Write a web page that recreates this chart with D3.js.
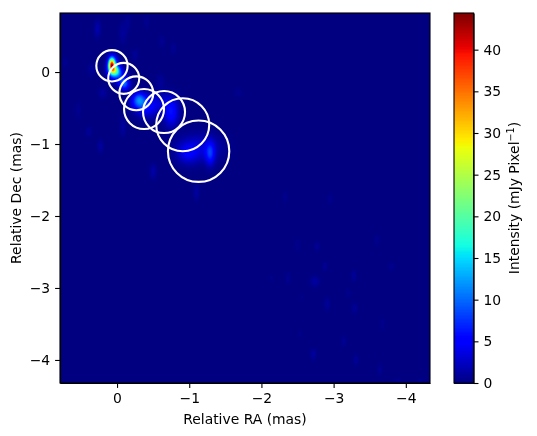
<!DOCTYPE html>
<html><head><meta charset="utf-8">
<script src="https://cdn.jsdelivr.net/npm/d3@7"></script>
<style>
html,body{margin:0;padding:0;background:#fff}
#wrap{position:relative;width:537px;height:436px;overflow:hidden}
canvas{position:absolute;left:60px;top:13px}
svg{position:absolute;left:0;top:0}
text{font-family:"DejaVu Sans",sans-serif;font-size:13.9px;fill:#000}
</style></head><body><div id="wrap"><canvas id="c" width="370" height="370"></canvas><svg id="s" width="537" height="436"></svg></div>
<script>
// emission components: [RA mas, Dec mas, sigma RA, sigma Dec, peak mJy]
const coreComponents = [
 [0.073,0.1,0.03,0.06,30],[0.035,0.02,0.05,0.05,14],[0.06,0.1,0.05,0.09,10],[0.0,-0.03,0.07,0.07,7],
 [-0.1,-0.16,0.05,0.06,10],[-0.3,-0.36,0.05,0.06,3],
 [-0.31,-0.41,0.08,0.08,8.5],[-0.42,-0.5,0.1,0.1,4],
 [-0.75,-0.57,0.07,0.13,5.5],[-0.62,-0.42,0.14,0.1,2.5],
 [-1.29,-1.13,0.045,0.11,6.5],[-0.98,-1.13,0.1,0.1,3.5],[-1.15,-1.05,0.2,0.13,3]
];
const faintComponents = [
 [0.27,0.6,0.03,0.08,1.8],[-0.08,0.54,0.04,0.1,1],[-0.15,0.69,0.03,0.08,0.7],[-0.41,0.7,0.03,0.06,0.6],
 [-0.62,0.42,0.03,0.06,0.7],[-0.78,0.33,0.03,0.06,0.7],[0.2,-0.29,0.04,0.05,1.2],[0.35,0.04,0.04,0.06,0.9],
 [0.54,-0.53,0.03,0.08,0.6],[0.23,-1.03,0.03,0.06,1.2],[0.39,-0.83,0.03,0.05,0.9],[-0.08,-0.76,0.03,0.09,1.2],
 [-0.5,-1.38,0.035,0.07,1.5],[-1.1,-1.66,0.03,0.08,1.2],[-1.68,-0.29,0.04,0.04,0.6],[-0.6,-0.13,0.04,0.07,0.9],
 [-0.25,0.24,0.03,0.06,0.9],[0.72,0.13,0.03,0.05,0.6],
 [-2.33,-1.73,0.025,0.05,0.6],[-2.95,-1.76,0.025,0.05,0.6],[-2.5,-2.4,0.03,0.07,0.5],[-2.77,-2.42,0.03,0.04,0.8],
 [-3.6,-2.33,0.025,0.05,0.6],[-2.88,-2.7,0.025,0.05,0.7],[-3.28,-2.83,0.025,0.05,1],[-3.8,-2.7,0.03,0.04,0.6],
 [-2.74,-2.91,0.045,0.05,1.3],[-2.37,-2.86,0.025,0.06,0.7],[-2.14,-2.86,0.02,0.03,0.5],[-3.2,-3.07,0.03,0.04,0.5],
 [-2.56,-3.12,0.02,0.03,0.4],[-2.91,-3.22,0.03,0.06,0.9],[-3.29,-3.28,0.03,0.05,0.9],[-3.68,-3.5,0.025,0.06,0.5],
 [-2.54,-3.64,0.02,0.04,0.4],[-3.14,-3.74,0.025,0.05,0.8],[-2.72,-3.92,0.03,0.05,1.2],[-3.31,-4.0,0.025,0.05,0.9],
 [-3.64,-4.14,0.025,0.05,0.8],[-3.89,-4.3,0.03,0.03,0.6],[-4.2,-4.29,0.03,0.03,0.5]
];
const circleRA  = [0.07,-0.093,-0.267,-0.374,-0.651,-0.91,-1.13];
const circleDec = [0.087,-0.088,-0.296,-0.514,-0.556,-0.732,-1.1];
const circleR   = [0.217,0.215,0.235,0.277,0.291,0.367,0.425];
const xTicks = [0,-1,-2,-3,-4];
const yTicks = [0,-1,-2,-3,-4];
const cbarTicks = [0,5,10,15,20,25,30,35,40];
const vmax = 44.4;

const L=60,R=430,T=13,B=383,CL=454,CR=473.6;
const x=d3.scaleLinear().domain([0.79,-4.335]).range([L,R]);
const y=d3.scaleLinear().domain([0.82,-4.32]).range([T,B]);
const cb=d3.scaleLinear().domain([0,vmax]).range([B,T]);
const jr=d3.scaleLinear().domain([0,.35,.66,.89,1]).range([0,0,1,1,.5]).clamp(true);
const jg=d3.scaleLinear().domain([0,.125,.375,.64,.91,1]).range([0,0,1,1,0,0]).clamp(true);
const jb=d3.scaleLinear().domain([0,.11,.34,.65,1]).range([.5,1,1,0,0]).clamp(true);
const jet=v=>{const t=Math.min(1,Math.max(0,v/vmax));return [jr(t)*255,jg(t)*255,jb(t)*255];};

const ctx=document.getElementById('c').getContext('2d');
const img=ctx.createImageData(370,370);
const comps=coreComponents.concat(faintComponents);
for(let j=0;j<370;j++){const dec=y.invert(T+j+.5);
 for(let i=0;i<370;i++){const ra=x.invert(L+i+.5);let v=0;
  for(const [a,d,sa,sd,p] of comps){const ea=(ra-a)/sa,ed=(dec-d)/sd;const q=ea*ea+ed*ed;if(q<20)v+=p*Math.exp(-q/2);}
  const c=jet(v),k=(j*370+i)*4;img.data[k]=c[0];img.data[k+1]=c[1];img.data[k+2]=c[2];img.data[k+3]=255;}}
ctx.putImageData(img,0,0);

const svg=d3.select('#s');
svg.selectAll('circle.b').data(circleRA).enter().append('circle').attr('class','b')
 .attr('cx',d=>x(d)).attr('cy',(d,i)=>y(circleDec[i])).attr('r',(d,i)=>x(0)-x(circleR[i]))
 .attr('fill','none').attr('stroke','#fff').attr('stroke-width',2.1);

const fmt=d=>d<0?'\u2212'+Math.abs(d):String(d);
function style(g){g.select('.domain').attr('stroke','#000').attr('stroke-width',1.1);
 g.selectAll('.tick line').attr('stroke','#000').attr('stroke-width',1.1);
 g.selectAll('.tick text').attr('fill','#000').style('font-family','"DejaVu Sans",sans-serif').style('font-size','13.9px');}
svg.append('g').attr('transform',`translate(0,${B})`).call(d3.axisBottom(x).tickValues(xTicks).tickFormat(fmt).tickSize(4.9).tickPadding(4.9).tickSizeOuter(0)).call(style);
svg.append('g').attr('transform',`translate(${L},0)`).call(d3.axisLeft(y).tickValues(yTicks).tickFormat(fmt).tickSize(4.9).tickPadding(4.9).tickSizeOuter(0)).call(style);
svg.append('rect').attr('x',L).attr('y',T).attr('width',R-L).attr('height',B-T).attr('fill','none').attr('stroke','#000').attr('stroke-width',1.1);

const levels=d3.range(0,256).map(i=>i/256*vmax);
svg.append('g').attr('shape-rendering','crispEdges').selectAll('rect').data(levels).enter().append('rect')
 .attr('x',CL).attr('width',CR-CL).attr('y',d=>cb(d+vmax/256)).attr('height',(B-T)/256+1)
 .attr('fill',d=>{const c=jet(d+vmax/512);return `rgb(${c[0]},${c[1]},${c[2]})`;});
svg.append('g').attr('transform',`translate(${CR},0)`).call(d3.axisRight(cb).tickValues(cbarTicks).tickSize(4.9).tickPadding(4.9).tickSizeOuter(0)).call(style);
svg.append('rect').attr('x',CL).attr('y',T).attr('width',CR-CL).attr('height',B-T).attr('fill','none').attr('stroke','#000').attr('stroke-width',1.1);

svg.append('text').attr('x',(L+R)/2).attr('y',424).attr('text-anchor','middle').text('Relative RA (mas)');
svg.append('text').attr('transform',`translate(21,${(T+B)/2}) rotate(-90)`).attr('text-anchor','middle').text('Relative Dec (mas)');
const cl=svg.append('text').attr('transform',`translate(519,198) rotate(-90)`).attr('text-anchor','middle');
cl.append('tspan').text('Intensity (mJy Pixel');
cl.append('tspan').attr('dy',-5).style('font-size','9.7px').text('\u22121');
cl.append('tspan').attr('dy',5).text(')');
</script></body></html>
